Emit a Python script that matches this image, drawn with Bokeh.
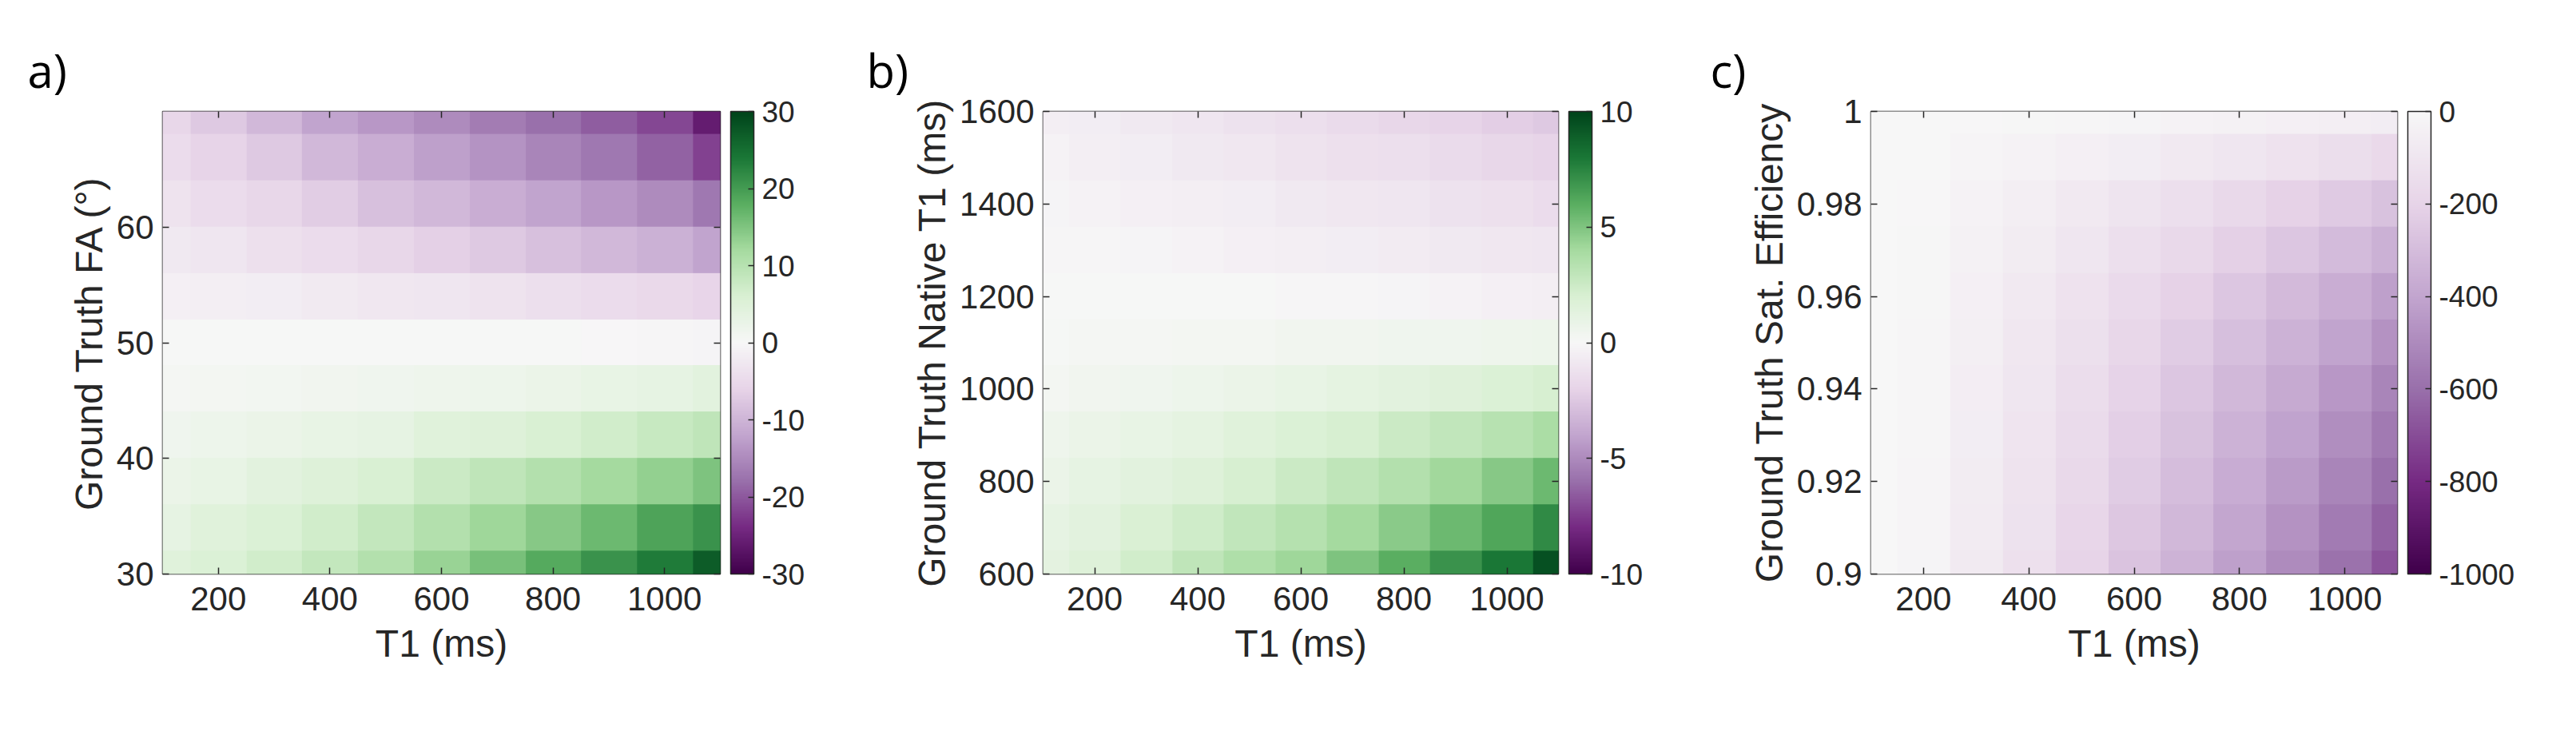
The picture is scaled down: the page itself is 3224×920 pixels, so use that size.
import numpy as np
from bokeh.plotting import figure
from bokeh.models import (LinearColorMapper, ColorBar, FixedTicker, Range1d,
                          LinearAxis, NumeralTickFormatter, PrintfTickFormatter)
from bokeh.layouts import row
from bokeh.embed import file_html
from bokeh.resources import INLINE

# ---------------- data ----------------
# a) error map: rows = Ground Truth FA (deg), columns = T1 (ms)
A_T1 = [100, 200, 300, 400, 500, 600, 700, 800, 900, 1000, 1100]
A_FA = [30, 34, 38, 42, 46, 50, 54, 58, 62, 66, 70]
A_ERR = [
    [4.5, 5.5, 7.0, 8.5, 10.5, 13.0, 15.5, 18.5, 21.0, 23.5, 27.0],
    [3.5, 4.5, 5.5, 7.0, 8.5, 10.5, 12.5, 14.5, 16.5, 19.0, 21.0],
    [2.5, 3.0, 4.0, 5.0, 6.0, 7.5, 9.0, 10.5, 12.0, 13.5, 15.0],
    [1.5, 2.0, 2.5, 3.0, 3.5, 4.5, 5.0, 6.0, 7.0, 8.0, 9.0],
    [0.7, 0.8, 1.0, 1.2, 1.5, 1.8, 2.1, 2.5, 3.0, 3.5, 4.0],
    [0.0, 0.0, 0.0, 0.0, 0.0, 0.0, 0.0, 0.0, -0.2, -0.4, -0.6],
    [-1.2, -1.5, -1.8, -2.2, -2.6, -3.0, -3.5, -4.0, -4.5, -5.0, -5.8],
    [-2.5, -3.0, -3.8, -4.6, -5.5, -6.5, -7.5, -8.5, -9.5, -10.5, -12.0],
    [-3.5, -4.5, -5.5, -7.0, -8.5, -9.5, -11.0, -12.0, -13.5, -15.0, -17.0],
    [-4.5, -6.0, -7.5, -9.5, -11.0, -12.5, -14.0, -15.5, -17.0, -19.0, -22.0],
    [-5.5, -7.5, -9.5, -12.0, -13.5, -15.0, -16.5, -18.0, -19.5, -21.5, -26.0],
]
A_CTICKS = [-30, -20, -10, 0, 10, 20, 30]
A_YTICKS = [30, 40, 50, 60]

# b) error map: rows = Ground Truth Native T1 (ms), columns = T1 (ms)
B_T1 = [100, 200, 300, 400, 500, 600, 700, 800, 900, 1000, 1100]
B_NT1 = [600, 700, 800, 900, 1000, 1100, 1200, 1300, 1400, 1500, 1600]
B_ERR = [
    [1.3, 1.7, 2.3, 3.0, 3.6, 4.2, 5.0, 6.0, 7.0, 8.0, 9.5],
    [1.1, 1.4, 1.9, 2.4, 2.9, 3.4, 4.0, 4.7, 5.5, 6.3, 7.3],
    [0.8, 1.1, 1.4, 1.7, 2.1, 2.5, 3.0, 3.5, 4.1, 4.8, 5.5],
    [0.6, 0.8, 1.0, 1.2, 1.5, 1.8, 2.1, 2.5, 2.9, 3.3, 3.8],
    [0.3, 0.4, 0.5, 0.7, 0.8, 1.0, 1.2, 1.4, 1.6, 1.8, 2.1],
    [0.1, 0.2, 0.2, 0.3, 0.3, 0.4, 0.4, 0.5, 0.5, 0.6, 0.7],
    [0.0, 0.0, 0.0, 0.0, 0.0, -0.1, -0.1, -0.2, -0.3, -0.4, -0.5],
    [-0.1, -0.1, -0.2, -0.3, -0.4, -0.5, -0.6, -0.7, -0.8, -0.9, -1.0],
    [-0.2, -0.3, -0.4, -0.5, -0.6, -0.8, -0.9, -1.0, -1.2, -1.3, -1.5],
    [-0.3, -0.5, -0.6, -0.8, -0.9, -1.1, -1.3, -1.4, -1.6, -1.8, -2.0],
    [-0.5, -0.6, -0.8, -1.0, -1.2, -1.4, -1.6, -1.8, -2.0, -2.2, -2.5],
]
B_CTICKS = [-10, -5, 0, 5, 10]
B_YTICKS = [600, 800, 1000, 1200, 1400, 1600]

# c) error map: rows = Ground Truth Sat. Efficiency, columns = T1 (ms)
C_T1 = [100, 200, 300, 400, 500, 600, 700, 800, 900, 1000, 1100]
C_SE = [0.90, 0.91, 0.92, 0.93, 0.94, 0.95, 0.96, 0.97, 0.98, 0.99, 1.00]
C_ERR = [
    [0, -20, -75, -130, -200, -270, -340, -420, -500, -590, -680],
    [0, -18, -70, -122, -188, -255, -320, -398, -470, -555, -640],
    [0, -16, -65, -115, -175, -238, -300, -370, -440, -520, -600],
    [0, -15, -60, -107, -162, -220, -280, -345, -410, -485, -560],
    [0, -14, -55, -100, -150, -205, -260, -320, -380, -450, -520],
    [0, -12, -50, -90, -135, -185, -235, -290, -345, -405, -470],
    [0, -10, -45, -80, -120, -165, -210, -260, -310, -365, -420],
    [0, -8, -38, -66, -100, -137, -175, -217, -260, -305, -350],
    [0, -6, -30, -52, -80, -110, -140, -175, -210, -245, -280],
    [0, -3, -17, -30, -45, -62, -80, -100, -120, -145, -170],
    [0, 0, -5, -10, -15, -22, -30, -37, -45, -52, -60],
]
C_CTICKS = [-1000, -800, -600, -400, -200, 0]
C_YTICKS = [0.90, 0.92, 0.94, 0.96, 0.98, 1.00]

X_TICKS = [200, 400, 600, 800, 1000]

# ---------------- styling ----------------
FONT = "Liberation Sans"
INK = "#262626"
PRGN = ['#40004b', '#762a83', '#9970ab', '#c2a5cf', '#e7d4e8', '#f7f7f7',
        '#d9f0d3', '#a6dba0', '#5aae61', '#1b7837', '#00441b']


def ramp(anchors, n=256):
    rgb = np.array([[int(c[i:i + 2], 16) for i in (1, 3, 5)] for c in anchors], float)
    t = np.linspace(0, 1, len(anchors))
    tt = np.linspace(0, 1, n)
    out = np.stack([np.interp(tt, t, rgb[:, k]) for k in range(3)], 1)
    return ['#%02x%02x%02x' % tuple(int(round(v)) for v in c) for c in out]


PAL_DIV = ramp(PRGN)
PAL_PURPLE = ramp(PRGN[:6])

FRAME_H = 579


def style_axis(ax, labels=True):
    ax.axis_line_color = None
    ax.major_tick_in = 8
    ax.major_tick_out = 0
    ax.major_tick_line_color = INK
    ax.major_tick_line_width = 1.5
    ax.minor_tick_line_color = None
    if labels:
        ax.major_label_text_font = FONT
        ax.major_label_text_font_size = "42px"
        ax.major_label_text_color = INK
        ax.axis_label_text_font = FONT
        ax.axis_label_text_font_size = "48px"
        ax.axis_label_text_font_style = "normal"
        ax.axis_label_text_color = INK
    else:
        ax.major_label_text_color = None
        ax.major_label_standoff = 0


def panel(T1, Y, ERR, yticks, ylabel, cticks, pal, lo, hi, fw, bl, br, tag, tag_dx,
          yfmt=None):
    y0, y1 = Y[0], Y[-1]
    x0, x1 = T1[0], T1[-1]
    p = figure(frame_width=fw, frame_height=FRAME_H,
               x_range=Range1d(x0, x1), y_range=Range1d(y0, y1),
               output_backend="svg", toolbar_location=None,
               min_border_left=bl, min_border_right=br,
               min_border_top=139, min_border_bottom=186,
               background_fill_color="white", border_fill_color="white")
    p.grid.visible = False
    p.outline_line_color = INK
    p.outline_line_width = 1.5

    mapper = LinearColorMapper(palette=pal, low=lo, high=hi)
    arr = np.array(ERR, dtype=float)
    dx = T1[1] - T1[0]
    dy = Y[1] - Y[0]
    p.image(image=[arr], x=x0 - dx / 2, y=y0 - dy / 2,
            dw=dx * len(T1), dh=dy * len(Y), color_mapper=mapper)

    p.xaxis.ticker = FixedTicker(ticks=X_TICKS)
    p.yaxis.ticker = FixedTicker(ticks=yticks)
    if yfmt is not None:
        p.yaxis.formatter = yfmt
    p.xaxis.axis_label = "T1 (ms)"
    p.yaxis.axis_label = ylabel
    for ax in p.xaxis:
        style_axis(ax)
        ax.major_label_standoff = 16
        ax.axis_label_standoff = 12
    for ax in p.yaxis:
        style_axis(ax)
        ax.major_label_standoff = 11
        ax.axis_label_standoff = 5

    top = LinearAxis(ticker=FixedTicker(ticks=X_TICKS))
    style_axis(top, labels=False)
    p.add_layout(top, "above")
    right = LinearAxis(ticker=FixedTicker(ticks=yticks))
    style_axis(right, labels=False)
    p.add_layout(right, "right")

    cb = ColorBar(color_mapper=mapper, ticker=FixedTicker(ticks=cticks),
                  formatter=PrintfTickFormatter(format="%d"),
                  location=(fw + 13, 0), width=29, height=FRAME_H,
                  padding=0, margin=0,
                  bar_line_color=INK, bar_line_width=1.5,
                  border_line_color=None, background_fill_color=None,
                  major_tick_in=7, major_tick_out=0,
                  major_tick_line_color=INK, major_tick_line_width=1.5,
                  minor_tick_line_color=None,
                  major_label_text_font=FONT,
                  major_label_text_font_size="37px",
                  major_label_text_color=INK,
                  label_standoff=10)
    p.add_layout(cb, "center")

    # panel tag as the figure title, shifted left of the frame
    p.title.text = tag
    p.title.align = "left"
    p.title.offset = tag_dx
    p.title.text_font = "Open Sans"
    p.title.text_font_size = "58px"
    p.title.text_font_style = "normal"
    p.title.text_color = "black"
    p.title.standoff = 25
    return p


pa = panel(A_T1, A_FA, A_ERR, A_YTICKS, "Ground Truth FA (°)", A_CTICKS,
           PAL_DIV, -30, 30, 698, 203, 171, "a)", -169)
pb = panel(B_T1, B_NT1, B_ERR, B_YTICKS, "Ground Truth Native T1 (ms)", B_CTICKS,
           PAL_DIV, -10, 10, 645, 233, 172, "b)", -221)
pc = panel(C_T1, C_SE, C_ERR, C_YTICKS, "Ground Truth Sat. Efficiency", C_CTICKS,
           PAL_PURPLE, -1000, 0, 659, 219, 208, "c)", -201,
           yfmt=NumeralTickFormatter(format="0.[00]"))

layout = row(pa, pb, pc)
open("out.html", "w").write(file_html(layout, INLINE))
